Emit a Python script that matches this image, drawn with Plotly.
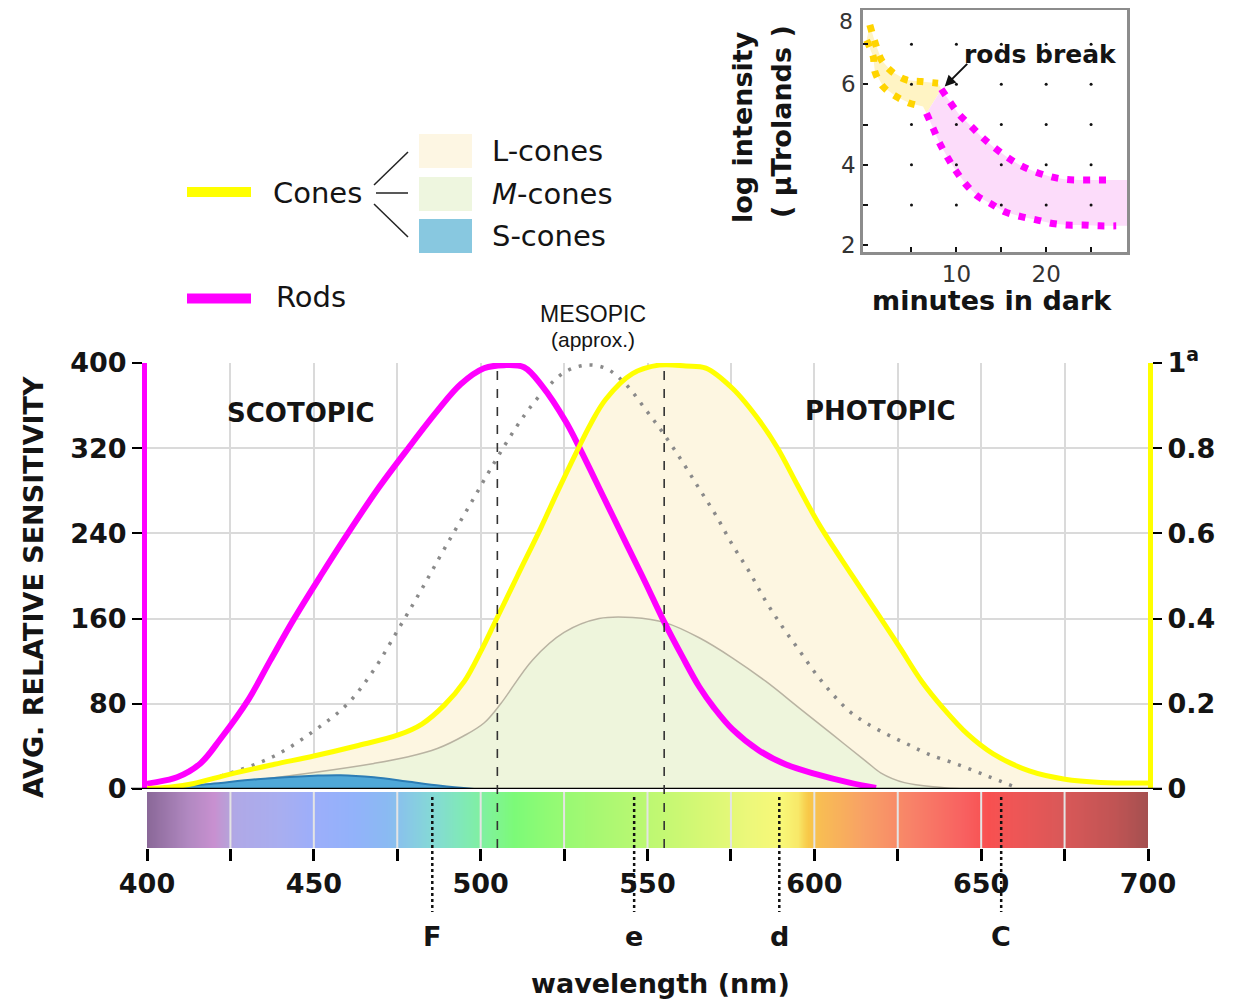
import plotly.graph_objects as go

W, H = 1251, 1001
OFF = 8  # page body margin of the rendered html
def fx(p): return (p - OFF) / W
def fy(p): return min(1.0, 1 - (p - OFF) / H)

# ---------------- data ----------------
rod_wl = [400, 402, 409, 416, 422, 430.4, 437, 444.1, 452, 460.2, 469, 478.3, 487, 494, 501, 507, 513, 518.5, 525.5, 530, 537, 544, 549.5, 554.5, 560.5, 565.5, 570, 575.5, 583.5, 591.5, 600.5, 610.5, 618.5]
rod_sens = [5, 6, 11, 24, 47, 84, 121, 160, 200, 240, 281, 320, 355, 380, 395, 398, 396, 378, 345, 318, 273, 228, 193, 160, 124, 96, 76, 56, 36, 23, 14, 6, 1]

cone_wl = [400, 406.6, 413.7, 425, 438.2, 450, 462.7, 475.5, 482.4, 489.2, 495.1, 500, 504.5, 511, 518, 523, 528.5, 533, 537.5, 545.5, 553.5, 561.5, 567.5, 575.5, 583.5, 589, 595, 601.5, 610.8, 619.3, 625.8, 632.2, 638.6, 646.1, 653.6, 664.4, 675.1, 685.8, 700]
cone_rel = [0.00125, 0.004, 0.0125, 0.035, 0.058, 0.0775, 0.101, 0.1275, 0.1525, 0.1975, 0.2525, 0.3225, 0.395, 0.5, 0.6125, 0.6975, 0.7875, 0.8575, 0.915, 0.975, 0.995, 0.993, 0.988, 0.94, 0.865, 0.8, 0.7125, 0.62, 0.5075, 0.4075, 0.33, 0.2525, 0.19, 0.1275, 0.0825, 0.0425, 0.023, 0.0155, 0.014]

m_wl = [400, 413.6, 425, 450, 468, 478, 487, 495, 501, 506, 515.5, 525, 535.5, 545.5, 555.5, 565.5, 575.5, 585.5, 595.5, 605.5, 615.5, 620, 627, 637.5, 645]
m_rel = [0.0, 0.0075, 0.015, 0.039, 0.06, 0.075, 0.095, 0.125, 0.155, 0.2, 0.3025, 0.3675, 0.4, 0.4025, 0.39, 0.355, 0.3075, 0.2525, 0.19, 0.1275, 0.065, 0.0375, 0.015, 0.004, 0.0]

s_wl = [403, 405, 419, 433, 450, 458, 468, 478, 488, 498]
s_rel = [0.0, 0.0025, 0.012, 0.023, 0.031, 0.0325, 0.0275, 0.0175, 0.0075, 0.0]

mes_wl = [406, 413.7, 425.5, 438.2, 450, 459.8, 467.6, 475.5, 482.4, 489.2, 497, 504, 510.5, 515.5, 520.5, 525.5, 531.5, 537.5, 543.5, 549.5, 554.5, 560.5, 565.5, 570.5, 575.5, 580.5, 585.5, 590.5, 595.5, 600.5, 605.5, 610.5, 615.5, 622, 628, 634, 643, 652, 660]
mes_sens = [0, 4.7, 15.6, 31, 54.5, 79, 110, 151, 188, 226, 268, 306, 339, 361, 379, 392, 398, 395, 380, 356, 335, 307, 282, 257, 229, 204, 176, 152, 130, 108, 89, 73, 62, 51, 42, 33, 23, 12, 2]

spec_wl = [400, 412, 420, 424, 426, 440, 450, 462, 472, 478, 486, 494, 502, 510, 520, 535, 550, 565, 580, 590, 595, 598, 602, 615, 630, 645, 652, 660, 675, 690, 700]
spec_col = ['#8A6898', '#B088C0', '#C890D0', '#B8A0D8', '#B0A8E6', '#A8AEF0', '#9CAEFA', '#92B2FA', '#8ABAF2', '#88C8E6', '#84DAD4', '#80E8B8', '#80F29A', '#7CFA78', '#90FA74', '#A8F872', '#BCF872', '#D4F874', '#ECF87A', '#F8F878', '#F8E868', '#F8C848', '#F8BC54', '#F8A066', '#F88068', '#F86060', '#F85050', '#EE5656', '#D85858', '#C05454', '#A45050']

x_ticks = list(range(400, 701, 25))
x_labels = [str(v) if v % 50 == 0 else '' for v in x_ticks]
left_ticks = [0, 80, 160, 240, 320, 400]
right_ticks = [0, 0.2, 0.4, 0.6, 0.8, 1]
right_labels = ['0', '0.2', '0.4', '0.6', '0.8', '1<sup>a</sup>']
fraun_wl = [485.5, 546, 589.5, 656]
fraun_lbl = ['F', 'e', 'd', 'C']
peak_wl = [505, 555]

# inset: dark adaptation
cone_up_t = [0.36, 0.92, 1.67, 2.78, 4.44, 6.1, 7.96]
cone_up = [7.48, 7.06, 6.6, 6.32, 6.11, 6.07, 6.03]
cone_lo_t = [0.0, 0.74, 0.92, 1.85, 3.33, 4.81, 6.29]
cone_lo = [7.1, 6.69, 6.32, 5.94, 5.69, 5.53, 5.45]
rod_up_t = [8.33, 8.9, 10.2, 11.5, 12.8, 14.1, 15.6, 17.0, 18.7, 20.4, 22.0, 23.7, 25.7, 27.6]
rod_up = [5.88, 5.69, 5.28, 4.99, 4.7, 4.45, 4.2, 4.0, 3.83, 3.71, 3.64, 3.62, 3.62, 3.62]
rod_lo_t = [6.67, 7.4, 8.15, 9.07, 10.0, 11.1, 12.4, 13.7, 15.4, 17.2, 18.9, 20.7, 22.4, 24.1, 25.9, 27.8]
rod_lo = [5.28, 4.91, 4.53, 4.16, 3.83, 3.5, 3.21, 3.05, 2.83, 2.71, 2.63, 2.54, 2.5, 2.5, 2.48, 2.48]
inset_x_ticks = [5, 10, 15, 20, 25]
inset_x_labels = ['', '10', '', '20', '']
inset_y_ticks = [2, 3, 4, 5, 6, 7]
inset_y_labels = ['2', '', '4', '', '6', '']
inset_top_label = '8'
break_pt = (8.7, 5.95)

legend_labels = ['L-cones', '<i>M</i>-cones', 'S-cones']
legend_colors = ['#FDF6E3', '#EEF6DF', '#88C8E0']

# ---------------- layout constants ----------------
LEFT_R = [0, 400]
RIGHT_R = [0, 1]
K = LEFT_R[1] / RIGHT_R[1]
INSET_XR = [-0.4, 29]
INSET_YR = [1.83, 7.85]
FONT = 'DejaVu Sans'
INK = '#141414'

MAIN_X = [fx(147), fx(1148)]
MAIN_Y = [fy(789), fy(363)]
SPEC_Y = [fy(848), fy(792)]
INSET_X = [fx(863), fx(1127)]
INSET_Y = [fy(252), fy(10)]

YELLOW = '#FFFF00'
MAGENTA = '#FF00FF'

fig = go.Figure()

fig.add_trace(go.Scatter(x=cone_wl, y=[v * K for v in cone_rel], mode='lines',
                         line=dict(width=0, color='#FDF6E1', shape='spline', smoothing=1),
                         fill='tozeroy', fillcolor='#FDF6E1', xaxis='x', yaxis='y', hoverinfo='skip', showlegend=False))
fig.add_trace(go.Scatter(x=m_wl, y=[v * K for v in m_rel], mode='lines',
                         line=dict(width=1.5, color='#B9B3A2', shape='spline', smoothing=1),
                         fill='tozeroy', fillcolor='#EEF5DC', xaxis='x', yaxis='y', hoverinfo='skip', showlegend=False))
fig.add_trace(go.Scatter(x=s_wl, y=[v * K for v in s_rel], mode='lines', line=dict(width=2, color='#2C7DB5', shape='spline'),
                         fill='tozeroy', fillcolor='#4FA8D8', xaxis='x', yaxis='y', hoverinfo='skip', showlegend=False))
fig.add_trace(go.Scatter(x=mes_wl, y=mes_sens, mode='lines', line=dict(width=3.5, color='#8A8A8A', dash='3px,8px', shape='spline', smoothing=1),
                         xaxis='x', yaxis='y', hoverinfo='skip', showlegend=False))
fig.add_trace(go.Scatter(x=rod_wl, y=rod_sens, mode='lines', line=dict(width=6, color=MAGENTA, shape='spline', smoothing=1),
                         xaxis='x', yaxis='y', hoverinfo='skip', showlegend=False))
fig.add_trace(go.Scatter(x=cone_wl, y=cone_rel, mode='lines', line=dict(width=5, color=YELLOW, shape='spline', smoothing=1),
                         xaxis='x', yaxis='y2', hoverinfo='skip', showlegend=False))

spec_x = list(range(400, 701))
cs = [[(w - 400) / 300, c] for w, c in zip(spec_wl, spec_col)]
fig.add_trace(go.Heatmap(x=spec_x, y=[0, 1], z=[spec_x, spec_x], colorscale=cs, zmin=400, zmax=700,
                         zsmooth='best', showscale=False, xaxis='x2', yaxis='y3', hoverinfo='skip'))

yel_x = cone_up_t + [rod_up_t[0], rod_lo_t[0]] + cone_lo_t[::-1]
yel_y = cone_up + [rod_up[0], rod_lo[0]] + cone_lo[::-1]
fig.add_trace(go.Scatter(x=yel_x, y=yel_y, mode='lines', line=dict(width=0), fill='toself', fillcolor='#FFF4C4',
                         xaxis='x3', yaxis='y4', hoverinfo='skip', showlegend=False))
pink_x = rod_up_t + [INSET_XR[1], INSET_XR[1]] + rod_lo_t[::-1]
pink_y = rod_up + [rod_up[-1], rod_lo[-1]] + rod_lo[::-1]
fig.add_trace(go.Scatter(x=pink_x, y=pink_y, mode='lines', line=dict(width=0), fill='toself', fillcolor='#FCDCFA',
                         xaxis='x3', yaxis='y4', hoverinfo='skip', showlegend=False))
gx = [x for x in inset_x_ticks for y in inset_y_ticks[1:]]
gy = [y for x in inset_x_ticks for y in inset_y_ticks[1:]]
fig.add_trace(go.Scatter(x=gx, y=gy, mode='markers', marker=dict(size=3, color='#111'),
                         xaxis='x3', yaxis='y4', hoverinfo='skip', showlegend=False))
for tx, ty, col in [(cone_up_t, cone_up, '#FFD400'), (cone_lo_t, cone_lo, '#FFD400'),
                    (rod_up_t, rod_up, MAGENTA), (rod_lo_t, rod_lo, MAGENTA)]:
    fig.add_trace(go.Scatter(x=tx, y=ty, mode='lines', line=dict(width=7, color=col, dash='7px,9px', shape='spline'),
                             xaxis='x3', yaxis='y4', hoverinfo='skip', showlegend=False))

# ---------------- shapes ----------------
shapes = []
shapes.append(dict(type='line', xref='paper', yref='y', x0=fx(131), x1=fx(1162), y0=0, y1=0,
                   line=dict(color='black', width=2.5), layer='above'))
for v in x_ticks[1:-1]:
    shapes.append(dict(type='line', xref='x2', yref='paper', x0=v, x1=v, y0=SPEC_Y[0], y1=SPEC_Y[1],
                       line=dict(color='#E4E4E4', width=2), layer='above'))
for v in peak_wl:
    shapes.append(dict(type='line', xref='x', yref='paper', x0=v, x1=v, y0=SPEC_Y[0], y1=MAIN_Y[1],
                       line=dict(color='#333', width=1.6, dash='dash'), layer='above'))
for v in fraun_wl:
    shapes.append(dict(type='line', xref='x2', yref='paper', x0=v, x1=v, y0=fy(797), y1=fy(912),
                       line=dict(color='#111', width=2.5, dash='dot'), layer='above'))
shapes.append(dict(type='line', xref='paper', yref='paper', x0=fx(187), x1=fx(251), y0=fy(192), y1=fy(192),
                   line=dict(color=YELLOW, width=10)))
shapes.append(dict(type='line', xref='paper', yref='paper', x0=fx(187), x1=fx(251), y0=fy(298.5), y1=fy(298.5),
                   line=dict(color=MAGENTA, width=10)))
for (a, b, c, d) in [(374, 185, 408, 152), (376, 193, 408, 193), (374, 204, 408, 237)]:
    shapes.append(dict(type='line', xref='paper', yref='paper', x0=fx(a), y0=fy(b), x1=fx(c), y1=fy(d),
                       line=dict(color='#222', width=1.5)))
rects_y = [(134, 168), (177, 211), (219, 253)]
for (t, b), col in zip(rects_y, legend_colors):
    shapes.append(dict(type='rect', xref='paper', yref='paper', x0=fx(419), x1=fx(472), y0=fy(b), y1=fy(t),
                       fillcolor=col, line=dict(width=0)))

# ---------------- annotations ----------------
ann = []
def txt(x, y, s, size=27, bold=True, family=FONT, angle=0, xanchor='center', color=INK, xref='paper', yref='paper'):
    ann.append(dict(x=x, y=y, xref=xref, yref=yref, text=s, showarrow=False, textangle=angle, xanchor=xanchor,
                    yanchor='middle', font=dict(family=family, size=size, color=color, weight=700 if bold else 400)))

txt(fx(33), fy(587), 'AVG. RELATIVE SENSITIVITY', size=27, angle=-90)
txt(fx(660), fy(983), 'wavelength (nm)', size=27)
for v, s in zip(fraun_wl, fraun_lbl):
    txt(v, fy(936), s, size=27, xref='x2')
txt(fx(301), fy(413), 'SCOTOPIC', size=26)
txt(fx(880), fy(411), 'PHOTOPIC', size=26)
txt(fx(593), fy(314), 'MESOPIC', size=23, bold=False, family='Liberation Sans')
txt(fx(593), fy(339), '(approx.)', size=21, bold=False, family='Liberation Sans')
txt(fx(271), fy(193), 'Cones', size=29, bold=False, xanchor='left')
txt(fx(274), fy(297), 'Rods', size=29, bold=False, xanchor='left')
for (t, b), s in zip(rects_y, legend_labels):
    txt(fx(490), fy((t + b) / 2), s, size=29, bold=False, xanchor='left')
txt(fx(1040), fy(54), 'rods break', size=25)
txt(fx(992), fy(300), 'minutes in dark', size=27)
txt(fx(743), fy(127), 'log intensity', size=27, angle=-90)
txt(fx(781), fy(122), '( µTrolands )', size=27, angle=-90)
txt(fx(846), fy(21), inset_top_label, size=22, bold=False, color='#333')
ann.append(dict(x=break_pt[0], y=break_pt[1], xref='x3', yref='y4', text='', showarrow=True, ax=24, ay=-24,
                arrowhead=2, arrowsize=1.1, arrowwidth=2, arrowcolor='#111'))

tickfont = dict(family=FONT, size=27, color=INK, weight=700)
insetfont = dict(family=FONT, size=23, color='#333')
fig.update_layout(
    width=W, height=H, margin=dict(l=0, r=0, t=0, b=0, autoexpand=False),
    paper_bgcolor='white', plot_bgcolor='white', showlegend=False,
    shapes=shapes, annotations=ann,
    xaxis=dict(domain=MAIN_X, range=[400, 700], anchor='y', tickvals=x_ticks, showticklabels=False, ticks='',
               showgrid=True, gridcolor='#DADADA', gridwidth=2, zeroline=False, showline=False, automargin=False),
    yaxis=dict(domain=MAIN_Y, range=LEFT_R, anchor='x', tickvals=left_ticks, ticks='outside', ticklen=10,
               tickwidth=2, tickcolor='black', tickfont=tickfont, showgrid=True, gridcolor='#DADADA', gridwidth=2,
               zeroline=False, showline=True, linecolor=MAGENTA, linewidth=5, automargin=False),
    yaxis2=dict(domain=MAIN_Y, range=RIGHT_R, overlaying='y', side='right', anchor='x', tickvals=right_ticks,
                ticktext=right_labels, ticks='outside', ticklen=9, tickwidth=2, tickcolor='black', tickfont=tickfont,
                showgrid=False, zeroline=False, showline=True, linecolor=YELLOW, linewidth=5, automargin=False),
    xaxis2=dict(domain=MAIN_X, range=[400, 700], anchor='y3', tickvals=x_ticks, ticktext=x_labels, ticks='outside',
                ticklen=12, tickwidth=3, tickcolor='black', tickfont=tickfont, showgrid=False, zeroline=False,
                showline=False, automargin=False),
    yaxis3=dict(domain=SPEC_Y, range=[0, 1], anchor='x2', visible=False, automargin=False),
    xaxis3=dict(domain=INSET_X, range=INSET_XR, anchor='y4', tickvals=inset_x_ticks, ticktext=inset_x_labels,
                ticks='inside', ticklen=5, tickwidth=2, tickcolor='#111', showgrid=False, zeroline=False,
                showline=True, mirror=True, linecolor='#8C8C8C', linewidth=2.5, tickfont=insetfont, automargin=False),
    yaxis4=dict(domain=INSET_Y, range=INSET_YR, anchor='x3', tickvals=inset_y_ticks, ticktext=inset_y_labels,
                ticks='inside', ticklen=5, tickwidth=2, tickcolor='#111', showgrid=False, zeroline=False,
                showline=True, mirror=True, linecolor='#8C8C8C', linewidth=2.5, tickfont=insetfont, automargin=False),
)

fig.write_html('out.html')
